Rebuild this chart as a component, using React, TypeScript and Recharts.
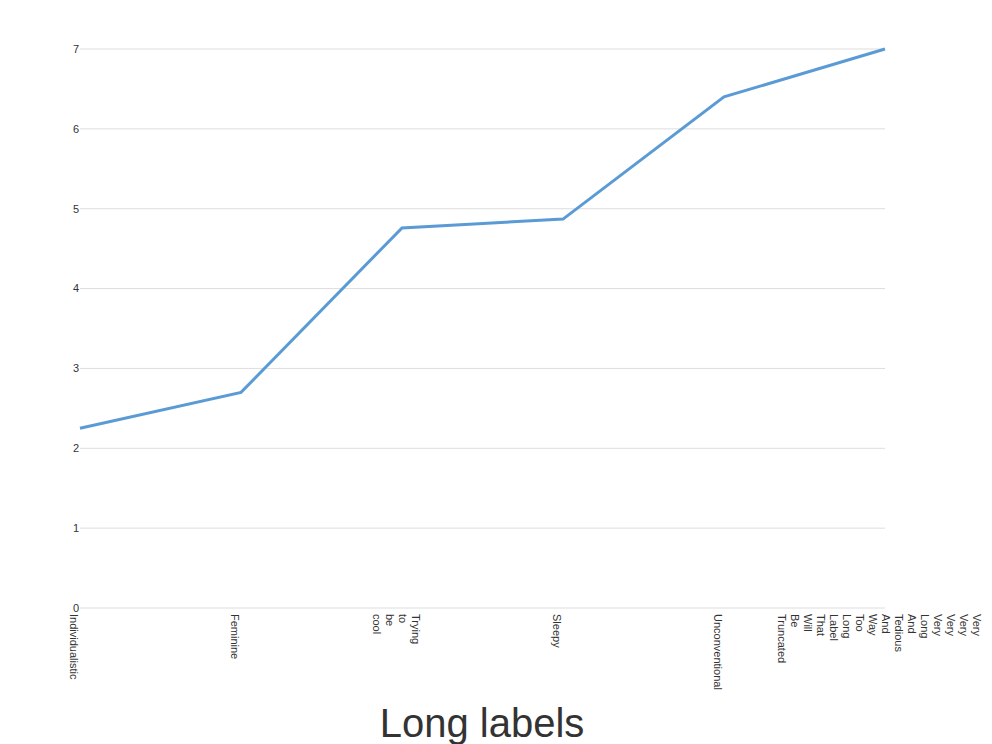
import React from "react";
import { LineChart, Line, XAxis, YAxis, CartesianGrid } from "recharts";

const categories = [
  "Individualistic",
  "Feminine",
  "Trying to be cool",
  "Sleepy",
  "Unconventional",
  "Very Very Very Very Long And Tedious And Way Too Long Label That Will Be Truncated",
];
const values = [2.25, 2.7, 4.76, 4.87, 6.4, 7.0];
const yTicks = [0, 1, 2, 3, 4, 5, 6, 7];

const data = categories.map((c, i) => ({ name: c, value: values[i] }));

const XTick = (props: any) => {
  const { x, payload } = props;
  const words: string[] = String(payload.value).split(" ");
  const n = words.length;
  return (
    <g transform={`translate(${x},606) rotate(90)`}>
      <text textAnchor="start" fontSize={11} fill="#333" fontFamily="Liberation Sans, Arial, sans-serif">
        {words.map((w, i) => (
          <tspan key={i} x={0} y={10 - (n - 1) * 6.5 + i * 13}>
            {w}
          </tspan>
        ))}
      </text>
    </g>
  );
};

export default function App() {
  return (
    <div style={{ position: "relative", width: 976, height: 736, fontFamily: "Liberation Sans, Arial, sans-serif" }}>
      <LineChart width={976} height={700} data={data} margin={{ top: 41, left: 42, right: 99, bottom: 10 }}>
        <CartesianGrid vertical={false} stroke="#dddddd" />
        <XAxis
          dataKey="name"
          axisLine={false}
          tickLine={false}
          interval={0}
          height={90}
          tick={<XTick />}
          padding={{ left: 0, right: 0 }}
        />
        <YAxis
          domain={[0, 7]}
          ticks={yTicks}
          axisLine={false}
          tickLine={false}
          width={30}
          tick={{ fontSize: 11, fill: "#333" }}
          tickMargin={-5}
        />
        <Line
          type="linear"
          dataKey="value"
          stroke="#5b9bd5"
          strokeWidth={3}
          dot={false}
          isAnimationActive={false}
        />
      </LineChart>
      <div
        style={{
          position: "absolute",
          top: 691,
          left: 0,
          width: 948,
          textAlign: "center",
          fontSize: 40,
          lineHeight: "48px",
          color: "#333",
        }}
      >
        Long labels
      </div>
    </div>
  );
}
